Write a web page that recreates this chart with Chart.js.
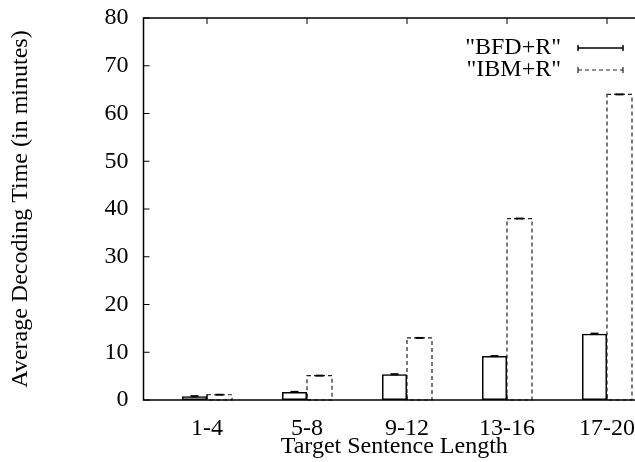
<!DOCTYPE html>
<html><head><meta charset="utf-8">
<style>
html,body{margin:0;padding:0;overflow:hidden;background:#fff;width:635px;height:462px}
#wrap{width:645px;height:462px}
</style>
<script src="https://cdn.jsdelivr.net/npm/chart.js@4.4.1/dist/chart.umd.min.js"></script>
</head><body><div id="wrap"><canvas id="c" width="645" height="462"></canvas></div>
<script>
const categories = ["1-4", "5-8", "9-12", "13-16", "17-20"];
const bfdR = [0.8, 1.7, 5.4, 9.2, 13.9];
const ibmR = [1.1, 5.1, 13.0, 38.0, 64.0];
const yTicks = [0, 10, 20, 30, 40, 50, 60, 70, 80];
const seriesNames = ['"BFD+R"', '"IBM+R"'];
const xTitle = "Target Sentence Length";
const yTitle = "Average Decoding Time (in minutes)";

const FONT = '"Liberation Serif", "Times New Roman", serif';

const framePlugin = {
  id: 'frame',
  afterDatasetsDraw(chart) {
    const ctx = chart.ctx;
    const meta = chart.getDatasetMeta(1);
    ctx.save();
    ctx.strokeStyle = '#222';
    ctx.lineWidth = 1.2;
    ctx.setLineDash([4, 3]);
    meta.data.forEach(el => {
      const p = el.getProps(['x', 'y', 'base', 'width'], true);
      ctx.strokeRect(p.x - p.width / 2, p.y, p.width, p.base - p.y);
    });
    ctx.setLineDash([]);
    ctx.strokeStyle = '#000';
    ctx.lineWidth = 2;
    [0, 1].forEach(di => {
      chart.getDatasetMeta(di).data.forEach(el => {
        const p = el.getProps(['x', 'y'], true);
        ctx.beginPath(); ctx.moveTo(p.x - 4, p.y); ctx.lineTo(p.x + 4, p.y); ctx.stroke();
      });
    });
    ctx.restore();
  },
  afterDraw(chart) {
    const {ctx, chartArea: {left, right, top, bottom}, scales: {x, y}} = chart;
    ctx.save();
    ctx.strokeStyle = '#000';
    ctx.lineWidth = 1.5;
    ctx.beginPath();
    ctx.moveTo(right + 10, top); ctx.lineTo(left, top);
    ctx.lineTo(left, bottom); ctx.lineTo(right + 10, bottom); ctx.stroke();
    ctx.lineWidth = 1;
    const line = (a, b, c, d) => { ctx.beginPath(); ctx.moveTo(a, b); ctx.lineTo(c, d); ctx.stroke(); };
    y.ticks.forEach(t => { const py = y.getPixelForValue(t.value); line(left, py, left + 6, py); });
    x.ticks.forEach(t => { const px = x.getPixelForValue(t.value); line(px, bottom, px, bottom - 6); line(px, top, px, top + 6); });
    ctx.font = '24px ' + FONT;
    ctx.fillStyle = '#000';
    ctx.textAlign = 'right';
    ctx.textBaseline = 'middle';
    const ly = [48, 70];
    seriesNames.forEach((n, i) => {
      ctx.fillText(n, 561, ly[i]);
      ctx.strokeStyle = i === 0 ? '#000' : '#222';
      ctx.lineWidth = i === 0 ? 1.5 : 1.2;
      ctx.setLineDash(i === 0 ? [] : [4, 3]);
      line(578, ly[i], 623, ly[i]);
      ctx.setLineDash([]);
      line(578, ly[i] - 3, 578, ly[i] + 3);
      line(623, ly[i] - 3, 623, ly[i] + 3);
    });
    ctx.restore();
  }
};

new Chart(document.getElementById('c'), {
  type: 'bar',
  data: {
    datasets: [
      { label: seriesNames[0], data: categories.map((c, i) => ({x: i, y: bfdR[i]})),
        backgroundColor: 'rgba(255,255,255,0)', borderColor: '#000', borderWidth: 1.5, borderSkipped: false },
      { label: seriesNames[1], data: categories.map((c, i) => ({x: i, y: ibmR[i]})),
        backgroundColor: 'rgba(255,255,255,0)', borderColor: 'rgba(0,0,0,0)', borderWidth: 0 }
    ]
  },
  options: {
    responsive: false,
    devicePixelRatio: 1,
    animation: false,
    categoryPercentage: 0.5,
    barPercentage: 1.0,
    layout: { padding: { top: 18, right: 0, bottom: 0, left: 0 } },
    plugins: { legend: { display: false }, tooltip: { enabled: false } },
    scales: {
      x: {
        type: 'linear', min: -0.635, max: 4.38, offset: false,
        grid: { display: false, drawTicks: false, tickLength: 0, offset: false }, border: { display: false },
        afterBuildTicks: s => { s.ticks = categories.map((c, i) => ({value: i})); },
        afterFit: s => { s.height = 62; s.paddingLeft = 0; s.paddingRight = 0; },
        ticks: { color: '#000', font: { family: FONT, size: 24 }, padding: 14, maxRotation: 0,
          callback: v => categories[v] ?? '' },
        title: { display: true, text: xTitle, color: '#000', font: { family: FONT, size: 24 }, padding: { top: 0, bottom: 1 } }
      },
      y: {
        min: 0, max: 80,
        grid: { display: false, drawTicks: false, tickLength: 0 }, border: { display: false },
        afterBuildTicks: s => { s.ticks = yTicks.map(v => ({value: v})); },
        afterFit: s => { s.width = 143.5; s.paddingTop = 0; s.paddingBottom = 0; },
        ticks: { color: '#000', font: { family: FONT, size: 24 }, padding: 15, callback: v => String(v) },
        title: { display: true, text: yTitle, color: '#000', font: { family: FONT, size: 24 }, padding: { top: 6, bottom: 0 } }
      }
    }
  },
  plugins: [framePlugin]
});
</script>
</body></html>
